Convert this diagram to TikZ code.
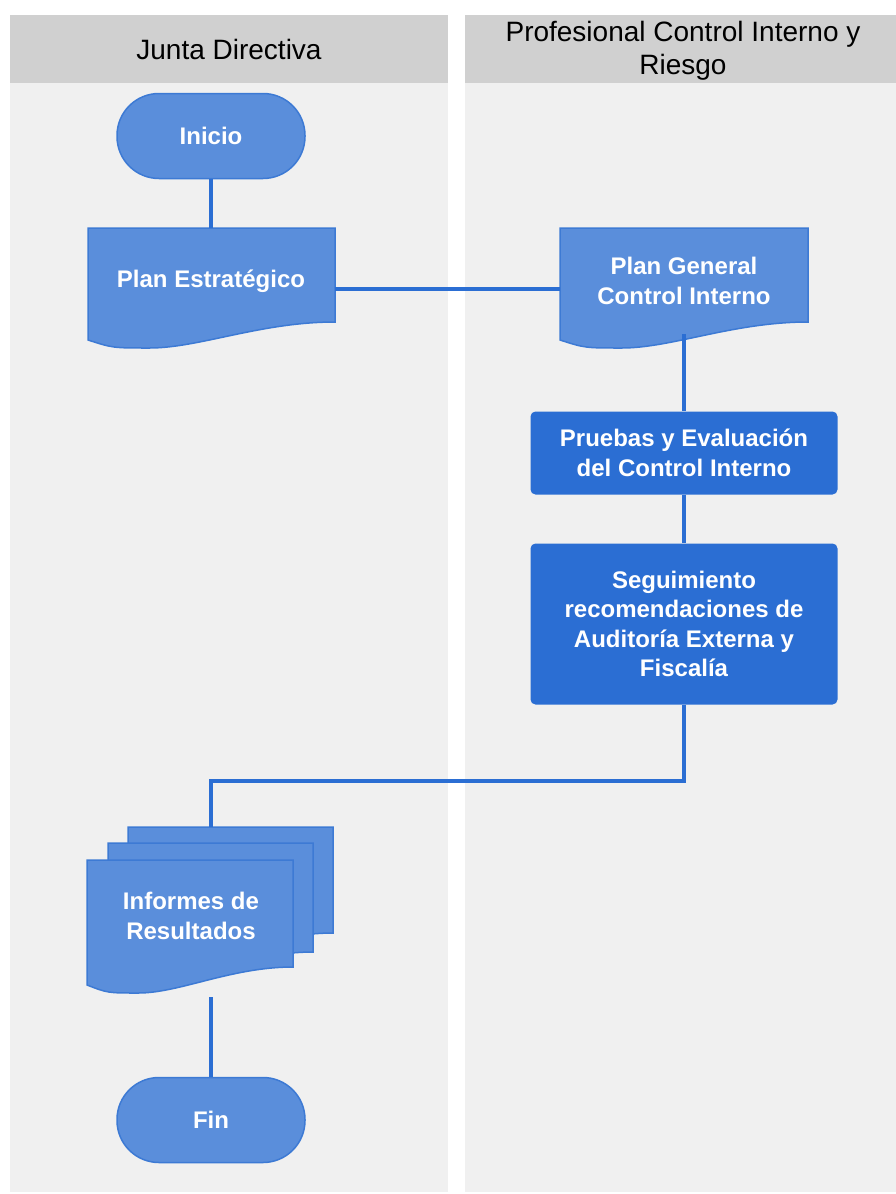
\documentclass[tikz,border=0pt]{standalone}
\usepackage{fontspec}
\setmainfont{Liberation Sans}
\usetikzlibrary{positioning}
\definecolor{lanebg}{HTML}{F0F0F0}
\definecolor{lanehead}{HTML}{D0D0D0}
\definecolor{softblue}{HTML}{5A8EDB}
\definecolor{edgeblue}{HTML}{3D7AD4}
\definecolor{deepblue}{HTML}{2B6ED3}
\newcommand{\boxfont}{\fontsize{24}{29.5}\selectfont\bfseries}
\newcommand{\headfont}{\fontsize{28}{33}\selectfont}
\tikzstyle{head} = [text=black, font=\headfont, align=center]
\tikzstyle{terminal} = [draw=edgeblue, fill=softblue, line width=1.5pt,
    rounded corners=42pt, minimum width=188pt, minimum height=85pt,
    text=white, font=\boxfont]
\tikzstyle{process} = [fill=deepblue, rounded corners=5pt, minimum width=307pt,
    text=white, font=\boxfont, align=center]
\tikzstyle{doctext} = [text=white, font=\boxfont, align=center,
    minimum width=247pt, minimum height=106pt]
\tikzstyle{doc} = [draw=edgeblue, fill=softblue, line width=1.5pt]
\tikzstyle{wire} = [deepblue, line width=4pt]
% document outline: left, top, right, bottom
\newcommand{\docshape}[4]{%
  \draw[doc] (#1,#2) -- (#3,#2) -- (#3,{#4-16})
    .. controls ({#3-0.3*(#3-#1)},{#4-16}) and ({#1+0.45*(#3-#1)},{#4+10}) .. ({#1+0.25*(#3-#1)},{#4+10})
    .. controls ({#1+0.1*(#3-#1)},{#4+10}) .. (#1,{#4+2}) -- cycle;}

\begin{document}
\begin{tikzpicture}[x=1pt, y=-1pt, node distance=3cm]
  \fill[white] (0,0) rectangle (896,1194);
  \useasboundingbox (0,0) rectangle (896,1194);
  % lanes
  \fill[lanehead] (10,15) rectangle (448,83);
  \fill[lanebg] (10,83) rectangle (448,1192);
  \fill[lanehead] (465,15) rectangle (896,83);
  \fill[lanebg] (465,83) rectangle (896,1192);
  \node [head] (jd) at (229,49) {Junta Directiva};
  \node [head] (pci) at (683,51) {Profesional Control Interno y\\Riesgo};
  % document shapes
  \docshape{88}{228}{335}{338}
  \docshape{560}{228}{808}{338}
  \docshape{128}{827}{333}{949}
  \docshape{108}{843}{313}{968}
  \docshape{87}{860}{293}{983}
  % nodes
  \node [terminal] (inicio) at (211,136) {Inicio};
  \node [doctext, below of=inicio, node distance=145pt] (pe) {Plan Estratégico};
  \node [doctext, right of=pe, node distance=473pt] (pg) {Plan General\\Control Interno};
  \node [process, below of=pg, node distance=172pt, minimum height=83pt] (pru) {Pruebas y Evaluación\\del Control Interno};
  \node [process, below of=pru, node distance=171pt, minimum height=161pt] (seg) {Seguimiento\\recomendaciones de\\Auditoría Externa y\\Fiscalía};
  \node [below of=pe, node distance=631pt, minimum width=246pt, minimum height=170pt,
    label={[doctext, minimum height=0pt, minimum width=0pt, xshift=-20pt, yshift=-4pt]center:Informes de\\Resultados}] (inf) {};
  \node [terminal, below of=inf, node distance=208pt] (fin) {Fin};
  % connectors
  \draw [wire] (inicio) -- (pe);
  \draw [wire] ([yshift=-8pt]pe.east) -- ([yshift=-8pt]pg.west);
  \draw [wire] (pg.south) -- (pru.north);
  \draw [wire] (pru) -- (seg);
  \draw [wire] (seg.south) -- ++(0,76) -| (inf.north);
  \draw [wire] (inf.south) -- (fin);
\end{tikzpicture}
\end{document}
